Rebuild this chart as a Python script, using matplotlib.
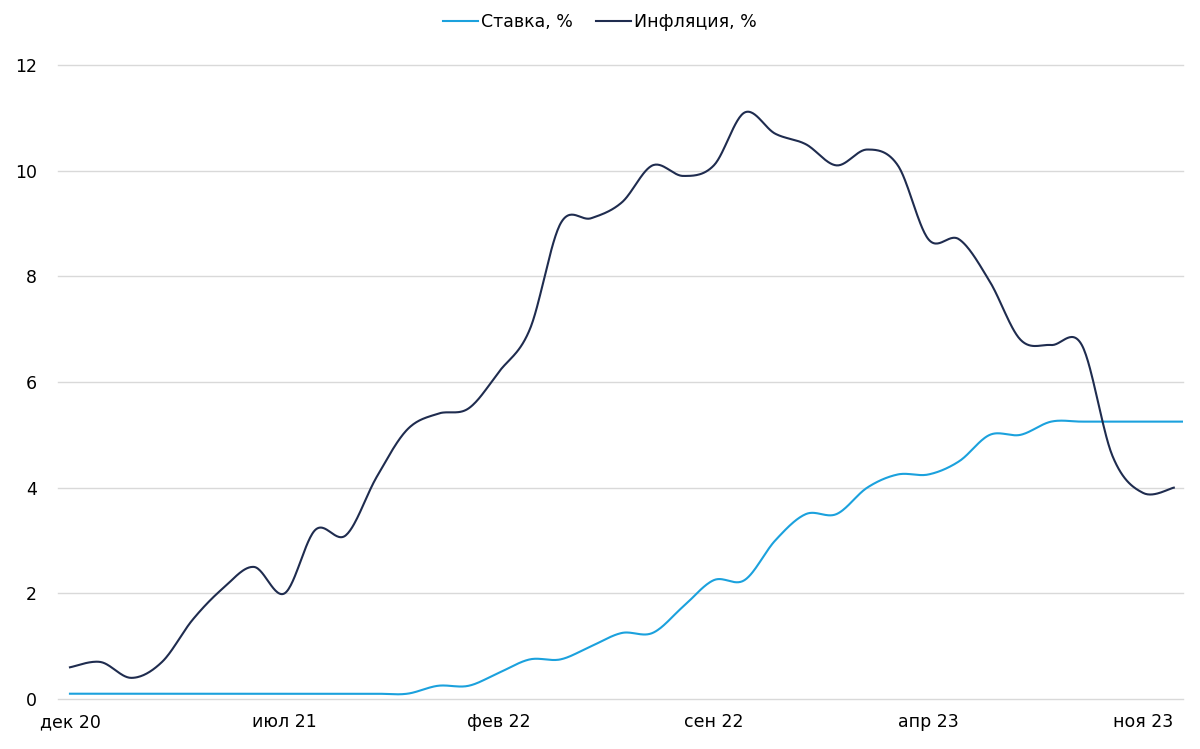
import numpy as np
import matplotlib
matplotlib.use("Agg")
import matplotlib.pyplot as plt
from matplotlib.lines import Line2D

# Monthly data, Dec 2020 .. Jan 2024
months = ["дек 20", "янв 21", "фев 21", "мар 21", "апр 21", "май 21", "июн 21", "июл 21",
          "авг 21", "сен 21", "окт 21", "ноя 21", "дек 21", "янв 22", "фев 22", "мар 22",
          "апр 22", "май 22", "июн 22", "июл 22", "авг 22", "сен 22", "окт 22", "ноя 22",
          "дек 22", "янв 23", "фев 23", "мар 23", "апр 23", "май 23", "июн 23", "июл 23",
          "авг 23", "сен 23", "окт 23", "ноя 23", "дек 23", "янв 24"]
rate = [0.1, 0.1, 0.1, 0.1, 0.1, 0.1, 0.1, 0.1, 0.1, 0.1, 0.1, 0.1, 0.25, 0.25, 0.5, 0.75,
        0.75, 1.0, 1.25, 1.25, 1.75, 2.25, 2.25, 3.0, 3.5, 3.5, 4.0, 4.25, 4.25, 4.5, 5.0, 5.0,
        5.25, 5.25, 5.25, 5.25, 5.25, 5.25]
inflation = [0.6, 0.7, 0.4, 0.7, 1.5, 2.1, 2.5, 2.0, 3.2, 3.1, 4.2, 5.1, 5.4, 5.5, 6.2, 7.0,
             9.0, 9.1, 9.4, 10.1, 9.9, 10.1, 11.1, 10.7, 10.5, 10.1, 10.4, 10.1, 8.7, 8.7, 7.9, 6.8,
             6.7, 6.7, 4.6, 3.9, 4.0]
tick_idx = [0, 7, 14, 21, 28, 35]
yticks = [0, 2, 4, 6, 8, 10, 12]


def smooth(xs, ys, n=30):
    """Excel-like smoothed line: cubic Bezier segments with Catmull-Rom control points."""
    P = np.column_stack([xs, ys]).astype(float)
    out = []
    m = len(P)
    for i in range(m - 1):
        p0 = P[i - 1] if i > 0 else P[i]
        p1 = P[i]
        p2 = P[i + 1]
        p3 = P[i + 2] if i + 2 < m else P[i + 1]
        c1 = p1 + (p2 - p0) / 6.0
        c2 = p2 - (p3 - p1) / 6.0
        t = np.linspace(0, 1, n, endpoint=(i == m - 2))[:, None]
        seg = ((1 - t) ** 3) * p1 + 3 * ((1 - t) ** 2) * t * c1 + 3 * (1 - t) * t ** 2 * c2 + t ** 3 * p2
        out.append(seg)
    out = np.vstack(out)
    return out[:, 0], out[:, 1]


rate_color = "#1ba1dd"
infl_color = "#1f2c4f"

fig = plt.figure(figsize=(12, 7.49), dpi=100)
ax = fig.add_axes([58 / 1200, 1 - 699 / 749, (1183 - 58) / 1200, (699 - 65) / 749])

xr, yr = smooth(np.arange(len(rate)), rate)
xi, yi = smooth(np.arange(len(inflation)), inflation)
ax.plot(xr, yr, color=rate_color, lw=1.5, label="Ставка, %", zorder=3)
ax.plot(xi, yi, color=infl_color, lw=1.5, label="Инфляция, %", zorder=3)

ax.set_xlim(-0.39, 36.3)
ax.set_ylim(0, 12)
ax.set_yticks(yticks)
ax.set_xticks(tick_idx)
ax.set_xticklabels([months[i] for i in tick_idx])
ax.grid(axis="y", color="#d9d9d9", lw=1)
for gl in ax.get_ygridlines():
    gl.set_clip_on(False)
ax.set_axisbelow(True)
for s in ax.spines.values():
    s.set_visible(False)
ax.tick_params(axis="both", length=0, labelsize=12.5, colors="#000000")
ax.tick_params(axis="y", pad=15)
ax.tick_params(axis="x", pad=10)

handles = [Line2D([], [], color=rate_color, lw=1.5), Line2D([], [], color=infl_color, lw=1.5)]
fig.legend(handles, ["Ставка, %", "Инфляция, %"], loc="center", bbox_to_anchor=(0.5, 1 - 22 / 749),
           ncol=2, frameon=False, fontsize=12.5, handlelength=2.0, handletextpad=0.2, columnspacing=1.3)

fig.savefig("out.png", dpi=100, facecolor="white")
